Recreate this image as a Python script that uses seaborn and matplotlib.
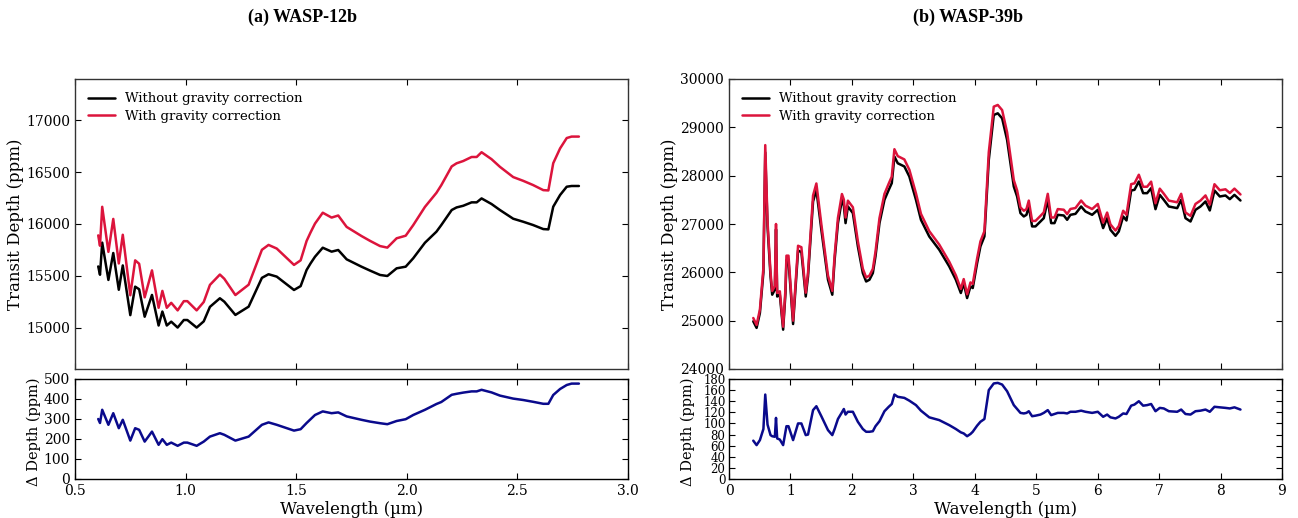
import numpy as np
import pandas as pd
import matplotlib
matplotlib.use("Agg")
import matplotlib.pyplot as plt
import seaborn as sns

# ---------------- WASP-12b ----------------
wl_w12 = [0.605, 0.613, 0.623, 0.651, 0.673, 0.698, 0.716, 0.750, 0.772, 0.790,
          0.815, 0.848, 0.878, 0.895, 0.915, 0.935, 0.964, 0.992, 1.008, 1.050,
          1.082, 1.110, 1.155, 1.175, 1.225, 1.285, 1.345, 1.375, 1.412, 1.490,
          1.520, 1.547, 1.565, 1.585, 1.620, 1.660, 1.690, 1.728, 1.795, 1.834,
          1.879, 1.912, 1.954, 1.995, 2.029, 2.082, 2.134, 2.156, 2.203, 2.225,
          2.255, 2.293, 2.316, 2.338, 2.383, 2.421, 2.481, 2.526, 2.571, 2.617,
          2.640, 2.662, 2.693, 2.723, 2.745, 2.778]
without_w12 = [15590, 15510, 15820, 15460, 15720, 15365, 15600, 15120, 15395, 15370,
               15105, 15315, 15020, 15155, 15020, 15057, 15000, 15073, 15073, 15000,
               15060, 15200, 15283, 15250, 15122, 15202, 15480, 15515, 15492, 15363,
               15400, 15556, 15620, 15684, 15771, 15733, 15749, 15659, 15588, 15550,
               15508, 15498, 15572, 15588, 15669, 15819, 15926, 15990, 16135, 16160,
               16176, 16209, 16209, 16247, 16193, 16135, 16051, 16022, 15990, 15951,
               15948, 16167, 16280, 16360, 16367, 16367]
delta_w12 = [300, 280, 346, 271, 329, 254, 296, 192, 254, 246,
             187, 237, 171, 199, 171, 182, 166, 182, 182, 166,
             187, 212, 229, 221, 192, 212, 271, 283, 271, 242,
             249, 280, 299, 320, 338, 329, 333, 313, 296, 287,
             279, 274, 290, 299, 320, 346, 375, 385, 421, 426,
             432, 438, 438, 446, 433, 417, 402, 395, 386, 376,
             376, 420, 450, 470, 477, 477]

# ---------------- WASP-39b ----------------
wl_w39 = [0.395, 0.449, 0.503, 0.560, 0.590, 0.627, 0.676, 0.703, 0.746, 0.765,
          0.784, 0.827, 0.881, 0.919, 0.935, 0.968, 1.043, 1.124, 1.178, 1.249,
          1.286, 1.368, 1.422, 1.503, 1.611, 1.681, 1.719, 1.773, 1.838, 1.869,
          1.897, 1.935, 2.016, 2.097, 2.178, 2.232, 2.286, 2.341, 2.384, 2.449,
          2.530, 2.600, 2.649, 2.692, 2.746, 2.854, 2.935, 3.043, 3.124, 3.259,
          3.422, 3.584, 3.692, 3.773, 3.820, 3.875, 3.930, 3.967, 4.038, 4.092,
          4.157, 4.228, 4.309, 4.374, 4.445, 4.526, 4.635, 4.689, 4.743, 4.798,
          4.841, 4.879, 4.933, 4.988, 5.069, 5.123, 5.188, 5.243, 5.297, 5.351,
          5.449, 5.503, 5.557, 5.639, 5.731, 5.801, 5.910, 6.002, 6.089, 6.154,
          6.208, 6.290, 6.344, 6.415, 6.469, 6.545, 6.599, 6.670, 6.740, 6.805,
          6.870, 6.941, 7.011, 7.076, 7.158, 7.294, 7.359, 7.429, 7.511, 7.592,
          7.673, 7.755, 7.825, 7.901, 7.988, 8.080, 8.151, 8.226, 8.324]
without_w39 = [24986, 24850, 25160, 26000, 28480, 26950, 25916, 25537, 25640, 26890,
               25500, 25537, 24814, 25570, 26250, 26250, 24930, 26450, 26420, 25500,
               25916, 27466, 27707, 26880, 25847, 25537, 26260, 27018, 27500, 27380,
               27018, 27362, 27225, 26540, 25985, 25810, 25847, 25985, 26330, 27018,
               27500, 27707, 27845, 28395, 28257, 28190, 27982, 27500, 27087, 26742,
               26467, 26123, 25847, 25572, 25778, 25468, 25710, 25675, 26190, 26536,
               26743, 28326, 29256, 29290, 29187, 28740, 27775, 27569, 27225, 27156,
               27190, 27362, 26950, 26950, 27052, 27121, 27500, 27018, 27018, 27190,
               27176, 27087, 27190, 27210, 27362, 27259, 27190, 27293, 26915, 27121,
               26880, 26756, 26846, 27156, 27073, 27693, 27707, 27879, 27638, 27638,
               27741, 27307, 27603, 27500, 27362, 27328, 27500, 27121, 27052, 27293,
               27362, 27466, 27280, 27693, 27569, 27590, 27514, 27603, 27486]
delta_w39 = [69, 61, 70, 90, 152, 98, 79, 77, 76, 110,
             73, 71, 61, 85, 95, 95, 70, 100, 100, 79,
             80, 124, 131, 113, 88, 79, 90, 108, 120, 126,
             116, 121, 121, 103, 90, 85, 85, 86, 95, 104,
             122, 130, 135, 152, 148, 146, 141, 133, 123, 111,
             106, 97, 90, 84, 82, 77, 81, 85, 96, 103,
             108, 160, 172, 173, 170, 158, 133, 126, 119, 118,
             119, 122, 113, 114, 116, 119, 124, 115, 117, 119,
             119, 118, 121, 121, 123, 121, 119, 121, 112, 116,
             111, 109, 112, 118, 117, 132, 134, 140, 132, 133,
             135, 122, 128, 127, 122, 121, 125, 117, 116, 122,
             123, 125, 121, 130, 129, 128, 127, 129, 125]

titles = ["(a) WASP-12b", "(b) WASP-39b"]
label_without = "Without gravity correction"
label_with = "With gravity correction"

sns.set_style("ticks")
plt.rcParams["font.family"] = ["DejaVu Serif"]
plt.rcParams["text.color"] = "black"
plt.rcParams["axes.labelcolor"] = "black"
plt.rcParams["xtick.color"] = "black"
plt.rcParams["ytick.color"] = "black"
plt.rcParams["xtick.direction"] = "in"
plt.rcParams["ytick.direction"] = "in"
plt.rcParams["xtick.top"] = True
plt.rcParams["ytick.right"] = True
plt.rcParams["xtick.major.size"] = 4
plt.rcParams["ytick.major.size"] = 4
plt.rcParams["axes.edgecolor"] = "black"
plt.rcParams["axes.linewidth"] = 1.0

fig = plt.figure(figsize=(12.98, 5.18), dpi=100)

W = 553 / 1298
lefts = [75 / 1298, 729 / 1298]
top_b, top_h = (518 - 369) / 518, 290 / 518
bot_b, bot_h = (518 - 479) / 518, 100 / 518

datasets = [
    (wl_w12, without_w12, delta_w12, (14600, 17400), np.arange(15000, 17001, 500),
     (0, 500), np.arange(0, 501, 100), (0.5, 3.0), np.arange(0.5, 3.01, 0.5), "%.1f",
     10, 3.5, -0.061),
    (wl_w39, without_w39, delta_w39, (24000, 30000), np.arange(24000, 30001, 1000),
     (0, 180), np.arange(0, 181, 20), (0, 9), np.arange(0, 10, 1), "%d",
     8.5, 2.5, -0.062),
]

for i, (wl, wo, de, ylim_t, yt_t, ylim_b, yt_b, xlim, xt, xfmt,
        bsize, bpad, blab) in enumerate(datasets):
    df = pd.DataFrame({"wl": wl, "without": wo, "delta": de})
    df["with"] = df["without"] + df["delta"]

    ax = fig.add_axes([lefts[i], top_b, W, top_h])
    sns.lineplot(data=df, x="wl", y="without", ax=ax, color="black", lw=1.8,
                 label=label_without, sort=False)
    sns.lineplot(data=df, x="wl", y="with", ax=ax, color="#dc143c", lw=1.8,
                 label=label_with, sort=False)
    ax.set_xlim(*xlim)
    ax.set_ylim(*ylim_t)
    ax.set_xticks(xt)
    ax.set_yticks(yt_t)
    ax.set_xticklabels([])
    ax.tick_params(labelsize=10)
    ax.set_xlabel("")
    ax.set_ylabel("Transit Depth (ppm)", fontsize=12)
    ax.yaxis.set_label_coords(-0.092, 0.5)
    ax.legend(loc="upper left", frameon=False, fontsize=9.5, handlelength=2.0,
              borderaxespad=0.6, labelspacing=0.35)
    for s in ax.spines.values():
        s.set_color("#333333")

    axb = fig.add_axes([lefts[i], bot_b, W, bot_h])
    sns.lineplot(data=df, x="wl", y="delta", ax=axb, color="#0a0a8c", lw=1.8, sort=False)
    axb.set_xlim(*xlim)
    axb.set_ylim(*ylim_b)
    axb.set_xticks(xt)
    axb.set_yticks(yt_b)
    axb.set_xticklabels([xfmt % v for v in xt])
    axb.tick_params(axis="x", labelsize=10)
    axb.tick_params(axis="y", labelsize=bsize, pad=bpad)
    axb.set_xlabel("Wavelength (\u00b5m)", fontsize=12, labelpad=2)
    axb.set_ylabel("\u0394 Depth (ppm)", fontsize=10.5)
    axb.yaxis.set_label_coords(blab, 0.47)

fig.text(302 / 1298, 1 - 17 / 518, titles[0], ha="center", va="center",
         fontsize=13, fontweight="bold", color="black", family=["Liberation Serif"])
fig.text(968 / 1298, 1 - 17 / 518, titles[1], ha="center", va="center",
         fontsize=13, fontweight="bold", color="black", family=["Liberation Serif"])

fig.savefig("out.png", dpi=100)
